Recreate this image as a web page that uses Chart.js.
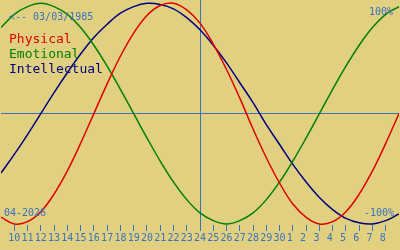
<!DOCTYPE html>
<html>
<head>
<meta charset="utf-8">
<script src="https://cdn.jsdelivr.net/npm/chart.js@4"></script>
<style>
  body { margin: 0; background: #e0d080; }
  #wrap { position: relative; width: 400px; height: 250px; overflow: hidden; }
  .note { position: absolute; font-family: 'DejaVu Sans Mono', monospace; font-size: 10px; line-height: 10px; color: #3a72c0; white-space: pre; }
  #legend { position: absolute; left: 9px; top: 31px; font-family: 'DejaVu Sans Mono', monospace; font-size: 13px; line-height: 15px; }
</style>
</head>
<body>
<div id="wrap">
  <canvas id="bio" width="400" height="250"></canvas>
  <div class="note" style="left:9px; top:12px;">&lt;-- 03/03/1985</div>
  <div class="note" style="right:7px; top:7px;">100%</div>
  <div class="note" style="left:4px; top:208px;">04-2026</div>
  <div class="note" style="right:6px; top:208px;">-100%</div>
  <div id="legend"><div style="color:#e00000">Physical</div><div style="color:#008000">Emotional</div><div style="color:#000080">Intellectual</div></div>
</div>
<script>
// day of month for each column, 9 April .. 9 May
const days = [9, 10, 11, 12, 13, 14, 15, 16, 17, 18, 19, 20, 21, 22, 23, 24, 25, 26, 27, 28, 29, 30, 1, 2, 3, 4, 5, 6, 7, 8, 9];
const todayIndex = 15;

// values in percent, one per day
const physical = [-94, -100, -98, -89, -73, -52, -27, 0, 27, 52, 73, 89, 98, 100, 94, 82, 63, 40, 14, -14, -40, -63, -82, -94, -100, -98, -89, -73, -52, -27, 0];
const emotional = [78, 90, 97, 100, 97, 90, 78, 62, 43, 22, 0, -22, -43, -62, -78, -90, -97, -100, -97, -90, -78, -62, -43, -22, 0, 22, 43, 62, 78, 90, 97];
const intellectual = [-54, -37, -19, 0, 19, 37, 54, 69, 81, 91, 97, 100, 99, 95, 87, 76, 62, 46, 28, 10, -10, -28, -46, -62, -76, -87, -95, -99, -100, -97, -91];

const blue = '#3a72c0';

function toPoints(arr) {
  return arr.map((v, i) => ({ x: i, y: v }));
}

function series(label, arr, color) {
  return {
    label: label,
    data: toPoints(arr),
    borderColor: color,
    borderWidth: 1.5,
    pointRadius: 0,
    tension: 0.4,
    fill: false
  };
}

new Chart(document.getElementById('bio'), {
  type: 'line',
  data: {
    datasets: [
      series('Physical', physical, '#e00000'),
      series('Emotional', emotional, '#008000'),
      series('Intellectual', intellectual, '#000080')
    ]
  },
  options: {
    responsive: false,
    animation: false,
    layout: { padding: { left: 0, right: 0, top: 0, bottom: 5 } },
    plugins: { legend: { display: false }, tooltip: { enabled: false } },
    scales: {
      x: {
        type: 'linear',
        min: 0,
        max: days.length - 1,
        border: { display: false },
        grid: {
          color: ctx => (ctx.tick && ctx.tick.value === todayIndex) ? blue : 'transparent',
          tickColor: ctx => (ctx.tick && ctx.tick.value >= 1 && ctx.tick.value <= days.length - 2) ? blue : 'transparent',
          tickLength: 6,
          lineWidth: 1
        },
        ticks: {
          stepSize: 1,
          autoSkip: false,
          maxRotation: 0,
          minRotation: 0,
          padding: 1,
          color: blue,
          font: { family: 'DejaVu Sans Mono', size: 10 },
          callback: v => {
            if (v < 1 || v > days.length - 2) return '';
            const d = days[v];
            return d < 10 ? d + ' ' : String(d);
          }
        }
      },
      y: {
        min: -101,
        max: 103,
        border: { display: false },
        afterBuildTicks: scale => { scale.ticks = [{ value: 0 }]; },
        grid: {
          color: blue,
          drawTicks: false,
          lineWidth: 1
        },
        ticks: { display: false }
      }
    }
  }
});
</script>
</body>
</html>
